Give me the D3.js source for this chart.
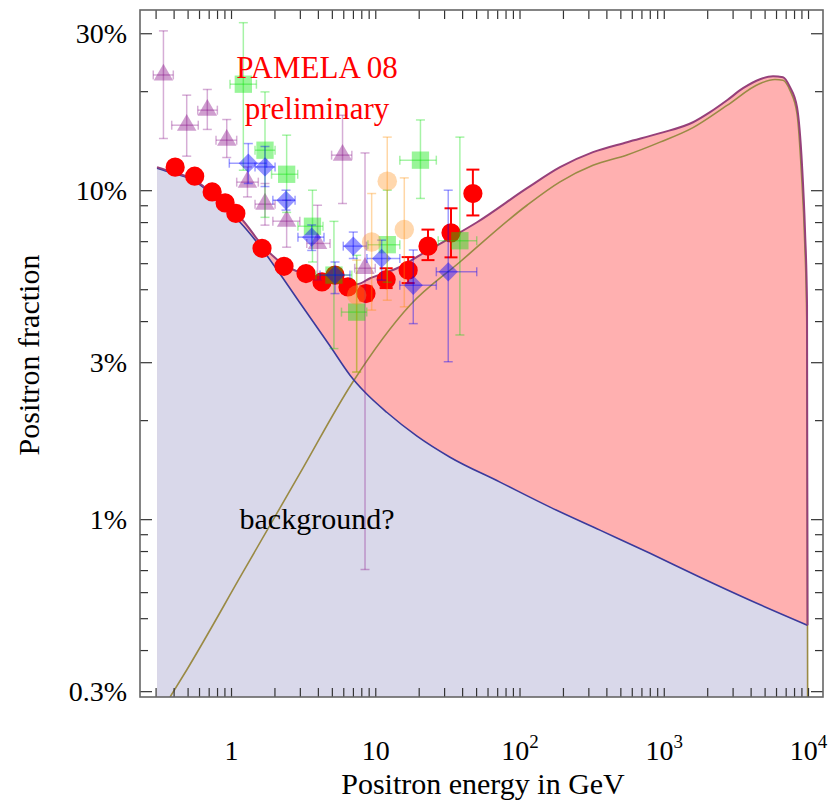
<!DOCTYPE html>
<html>
<head>
<meta charset="utf-8">
<script src="https://cdn.jsdelivr.net/npm/d3@7"></script>
<style>
  body { margin: 0; background: #fff; }
  svg text { font-family: "Liberation Serif", "Times New Roman", serif; }
</style>
</head>
<body>
<svg id="chart" width="835" height="807"></svg>
<script>
// ---- model curves: energy in GeV, positron fraction in % ----
const bgEnergy   = [0.307, 0.396, 0.545, 0.682, 0.880, 1.154, 1.666, 2.186, 3.009, 4.858, 6.68, 8.49, 12.06, 19.47, 32.98, 73.2, 162.7, 361, 803, 1784, 3962, 9920];
const bgFraction = [11.67, 11.26, 10.72, 10.0, 8.94, 7.99, 6.57, 5.56, 4.54, 3.36, 2.74, 2.43, 2.11, 1.788, 1.543, 1.296, 1.088, 0.926, 0.788, 0.666, 0.567, 0.476];

const totalEnergy   = [0.307, 0.396, 0.545, 0.682, 0.880, 1.154, 1.666, 2.294, 3.364, 4.858, 7.47, 9.20, 14.15, 21.43, 32.98, 50.75, 112.7, 190.9, 323, 556, 942, 1595, 2092, 2745, 3543, 4648, 5720, 6708, 7503, 8390, 9087, 9533, 9842, 9920];
const totalFraction = [11.75, 11.34, 10.80, 10.07, 9.07, 8.28, 6.76, 5.96, 5.52, 5.25, 5.18, 5.40, 5.79, 6.43, 7.15, 7.99, 10.14, 11.75, 13.05, 13.99, 14.91, 16.09, 17.27, 18.77, 20.42, 21.75, 22.21, 22.06, 20.57, 17.88, 11.9, 7.5, 4.5, 0.476];

const signalEnergy   = [0.378, 0.493, 1.21, 3.009, 6.90, 17.4, 38.6, 112.7, 190.9, 323, 556, 942, 1595, 2745, 4648, 5900, 6708, 7503, 8390, 9000, 9480, 9800, 9880, 9940];
const signalFraction = [0.288, 0.348, 0.690, 1.38, 2.59, 4.47, 6.05, 9.0, 10.6, 11.9, 12.8, 14.0, 15.5, 18.1, 21.1, 21.7, 21.6, 20.1, 17.1, 11.3, 7.0, 4.0, 1.1, 0.28];

// ---- PAMELA 08 preliminary ----
const pamelaEnergy   = [0.41, 0.56, 0.74, 0.91, 1.08, 1.64, 2.33, 3.31, 4.27, 5.26, 6.47, 8.62, 11.9, 16.9, 23.2, 33.5, 47.5];
const pamelaFraction = [11.75, 11.03, 9.88, 9.15, 8.50, 6.66, 5.87, 5.58, 5.26, 5.52, 5.08, 4.85, 5.35, 5.71, 6.76, 7.42, 9.77];
const pamelaLow      = [11.4, 10.7, 9.6, 8.9, 8.25, 6.45, 5.68, 5.38, 5.06, 5.30, 4.86, 4.62, 5.04, 5.22, 6.13, 6.25, 8.38];
const pamelaHigh     = [12.1, 11.4, 10.2, 9.4, 8.75, 6.88, 6.06, 5.78, 5.46, 5.74, 5.30, 5.10, 5.79, 6.26, 7.59, 8.81, 11.55];

// ---- earlier measurements ----
const triEnergy     = [0.34, 0.493, 0.685, 0.934, 1.30, 1.72, 2.43, 3.98, 5.93, 8.49];
const triEnergyLow  = [0.289, 0.388, 0.588, 0.787, 1.095, 1.467, 1.95, 3.35, 4.98, 7.2];
const triEnergyHigh = [0.398, 0.593, 0.804, 1.095, 1.546, 2.02, 3.0, 4.86, 6.88, 10.0];
const triFraction   = [22.4, 15.76, 17.51, 14.19, 10.58, 9.07, 8.05, 6.89, 12.78, 5.79];
const triLow        = [14.36, 12.69, 15.30, 12.57, 9.54, 7.83, 6.71, 5.33, 9.11, 0.703];
const triHigh       = [30.5, 19.45, 20.24, 16.40, 11.77, 10.48, 9.32, 9.0, 16.9, 12.98];

const sqEnergy     = [1.217, 1.72, 2.43, 3.67, 5.17, 7.43, 12.11, 20.57, 38.6];
const sqEnergyLow  = [0.984, 1.467, 1.91, 2.91, 3.88, 5.83, 8.9, 14.8, 27.3];
const sqEnergyHigh = [1.5, 2.02, 2.9, 4.34, 6.88, 8.73, 14.8, 26.5, 50.5];
const sqFraction   = [21.0, 13.23, 11.18, 7.77, 5.52, 4.26, 6.83, 12.34, 7.02];
const sqLow        = [11.5, 8.27, 8.56, 6.05, 3.30, 2.80, 5.25, 9.44, 3.63];
const sqHigh       = [32.3, 19.9, 14.7, 10.0, 8.04, 6.34, 10.0, 16.35, 14.5];

const dmEnergy     = [1.318, 1.72, 2.405, 3.625, 5.26, 7.04, 11.07, 18.34, 32.05];
const dmEnergyLow  = [0.973, 1.467, 1.95, 2.91, 4.14, 6.0, 8.75, 14.8, 26.5];
const dmEnergyHigh = [1.766, 2.02, 2.78, 4.41, 6.68, 8.7, 14.8, 26.5, 50.5];
const dmFraction   = [12.08, 11.77, 9.32, 7.20, 5.52, 6.76, 6.20, 5.14, 5.65];
const dmLow        = [10.48, 10.26, 8.70, 6.56, 4.85, 6.20, 5.33, 3.93, 3.01];
const dmHigh       = [13.86, 13.58, 10.0, 7.84, 6.05, 7.46, 7.05, 6.58, 10.0];

const ocEnergy   = [7.43, 9.44, 12.11, 15.89];
const ocFraction = [4.80, 6.96, 10.65, 7.59];
const ocLow      = [2.80, 4.32, 4.63, 4.42];
const ocHigh     = [6.13, 9.77, 14.5, 10.9];

// ---- axis labels ----
const xTickLabels = [1, 10, 100, 1000, 10000];
const yTickLabels = [0.3, 1, 3, 10, 30];
const yMajorTicks = [0.3, 1, 3, 10, 30];

// ---- layout ----
const pLeft = 140, pRight = 823, pTop = 10, pBottom = 697;
const svg = d3.select("#chart");

const x = d3.scaleLog().domain([0.2339, 12700]).range([pLeft, pRight]);
const y = d3.scaleLog().domain([0.288, 35.3]).range([pBottom, pTop]);

svg.append("defs").append("clipPath").attr("id", "plotClip")
  .append("rect").attr("x", pLeft).attr("y", pTop)
  .attr("width", pRight - pLeft).attr("height", pBottom - pTop);

const plot = svg.append("g").attr("clip-path", "url(#plotClip)");

const zipPts = (a, b) => a.map((v, i) => [v, b[i]]);
const bgPts = zipPts(bgEnergy, bgFraction);
const totalPts = zipPts(totalEnergy, totalFraction);
const signalPts = zipPts(signalEnergy, signalFraction);

const areaGen = d3.area().x(d => x(d[0])).y0(pBottom).y1(d => y(d[1])).curve(d3.curveMonotoneX);
const lineGen = d3.line().x(d => x(d[0])).y(d => y(d[1])).curve(d3.curveMonotoneX);

// signal excess (pink) then background (lavender) on top of it
plot.append("path").attr("d", areaGen(totalPts)).attr("fill", "#ffb0b0");
plot.append("path").attr("d", areaGen(bgPts)).attr("fill", "#d9d8ea");

plot.append("path").attr("d", lineGen(signalPts)).attr("fill", "none")
  .attr("stroke", "#9a8a44").attr("stroke-width", 1.6);
plot.append("path").attr("d", lineGen(bgPts)).attr("fill", "none")
  .attr("stroke", "#3a3a9c").attr("stroke-width", 1.6);
plot.append("path").attr("d", lineGen(totalPts)).attr("fill", "none")
  .attr("stroke", "#96407a").attr("stroke-width", 2);

// ---- error-bar helper ----
function errorBars(g, ex, eLo, eHi, fy, fLo, fHi, color, opacity, width, capV, capH) {
  ex.forEach((e, i) => {
    const cx = x(e), cy = y(fy[i]);
    const y1 = y(fLo[i]), y2 = y(fHi[i]);
    const seg = (a, b, c, d) => g.append("line").attr("x1", a).attr("y1", b).attr("x2", c).attr("y2", d)
      .attr("stroke", color).attr("stroke-opacity", opacity).attr("stroke-width", width);
    seg(cx, y1, cx, y2);
    seg(cx - capV, y1, cx + capV, y1);
    seg(cx - capV, y2, cx + capV, y2);
    if (eLo && eHi && eLo[i] !== eHi[i]) {
      const x1 = x(eLo[i]), x2 = x(eHi[i]);
      seg(x1, cy, x2, cy);
      seg(x1, cy - capH, x1, cy + capH);
      seg(x2, cy - capH, x2, cy + capH);
    }
  });
}

function markers(g, ex, fy, symbolType, size, color, opacity, rotate) {
  const sym = d3.symbol().type(symbolType).size(size);
  g.selectAll(null).data(ex.map((e, i) => [e, fy[i]])).enter().append("path")
    .attr("d", sym)
    .attr("transform", d => `translate(${x(d[0])},${y(d[1])})` + (rotate ? ` rotate(${rotate})` : ""))
    .attr("fill", color).attr("fill-opacity", opacity);
}

const dataG = plot.append("g");

// PAMELA (solid red), underneath the translucent earlier data
errorBars(dataG, pamelaEnergy, null, null, pamelaFraction, pamelaLow, pamelaHigh, "#ff0000", 1, 2, 6.5, 0);
markers(dataG, pamelaEnergy, pamelaFraction, d3.symbolCircle, 290, "#ff0000", 1);

// purple triangles
errorBars(dataG, triEnergy, triEnergyLow, triEnergyHigh, triFraction, triLow, triHigh, "rgb(128,0,128)", 0.32, 1.5, 4.5, 4.5);
markers(dataG, triEnergy, triFraction, d3.symbolTriangle, 165, "rgb(128,0,128)", 0.38);

// green squares
errorBars(dataG, sqEnergy, sqEnergyLow, sqEnergyHigh, sqFraction, sqLow, sqHigh, "rgb(0,220,0)", 0.35, 1.5, 4.5, 4.5);
markers(dataG, sqEnergy, sqFraction, d3.symbolSquare, 300, "rgb(0,230,0)", 0.4);

// blue diamonds
errorBars(dataG, dmEnergy, dmEnergyLow, dmEnergyHigh, dmFraction, dmLow, dmHigh, "rgb(0,0,255)", 0.38, 1.5, 4.5, 4.5);
markers(dataG, dmEnergy, dmFraction, d3.symbolSquare, 185, "rgb(0,0,255)", 0.42, 45);

// orange circles
errorBars(dataG, ocEnergy, null, null, ocFraction, ocLow, ocHigh, "rgb(255,140,0)", 0.35, 1.5, 4.5, 4.5);
markers(dataG, ocEnergy, ocFraction, d3.symbolCircle, 300, "rgb(255,150,40)", 0.38);

// ---- frame and ticks ----
const tickColor = "#333";
const xTicks = x.ticks();
const yTicks = y.ticks();

svg.append("g").attr("transform", `translate(0,${pBottom})`)
  .call(d3.axisBottom(x).tickValues(xTicks).tickSize(-9).tickFormat(""))
  .call(g => g.select(".domain").remove())
  .call(g => g.selectAll("line").attr("stroke", tickColor).attr("stroke-width", 1.2));
svg.append("g").attr("transform", `translate(0,${pTop})`)
  .call(d3.axisTop(x).tickValues(xTicks).tickSize(-9).tickFormat(""))
  .call(g => g.select(".domain").remove())
  .call(g => g.selectAll("line").attr("stroke", tickColor).attr("stroke-width", 1.2));

const isMajorY = v => yMajorTicks.some(m => Math.abs(m - v) / m < 1e-6);
svg.append("g").attr("transform", `translate(${pLeft},0)`)
  .call(d3.axisLeft(y).tickValues(yTicks).tickSize(0).tickFormat(""))
  .call(g => g.select(".domain").remove())
  .call(g => g.selectAll(".tick line").attr("x2", d => isMajorY(d) ? 12 : 8)
    .attr("stroke", tickColor).attr("stroke-width", 1.2));
svg.append("g").attr("transform", `translate(${pRight},0)`)
  .call(d3.axisRight(y).tickValues(yTicks).tickSize(0).tickFormat(""))
  .call(g => g.select(".domain").remove())
  .call(g => g.selectAll(".tick line").attr("x2", d => isMajorY(d) ? -12 : -8)
    .attr("stroke", tickColor).attr("stroke-width", 1.2));

svg.append("rect").attr("x", pLeft).attr("y", pTop)
  .attr("width", pRight - pLeft).attr("height", pBottom - pTop)
  .attr("fill", "none").attr("stroke", "#666").attr("stroke-width", 1.6);

// ---- tick labels ----
const labelSize = 28;
const xLab = svg.append("g").attr("transform", `translate(0,${pBottom})`)
  .call(d3.axisBottom(x).tickValues(xTickLabels).tickSize(0).tickFormat(""));
xLab.select(".domain").remove();
xLab.selectAll(".tick text").each(function (d) {
  const t = d3.select(this).attr("y", 63).attr("dy", null)
    .attr("font-size", labelSize).attr("fill", "#000");
  const p = Math.round(Math.log10(d));
  if (p <= 1) {
    t.text(String(d));
  } else {
    t.text("");
    t.append("tspan").text("10");
    t.append("tspan").attr("dy", -12).attr("font-size", 19).text(String(p));
  }
});

const yLab = svg.append("g").attr("transform", `translate(${pLeft},0)`)
  .call(d3.axisLeft(y).tickValues(yTickLabels).tickSize(0).tickPadding(13)
    .tickFormat(v => v + "%"));
yLab.select(".domain").remove();
yLab.selectAll(".tick text").attr("font-size", labelSize).attr("fill", "#000");

// ---- titles and annotations ----
svg.append("text").attr("x", 483).attr("y", 794).attr("text-anchor", "middle")
  .attr("font-size", 30).text("Positron energy in GeV");
svg.append("text").attr("transform", "translate(39,355) rotate(-90)").attr("text-anchor", "middle")
  .attr("font-size", 30).text("Positron fraction");

svg.append("text").attr("x", 317).attr("y", 78).attr("text-anchor", "middle")
  .attr("font-size", 31).attr("fill", "#ff0000").text("PAMELA 08");
svg.append("text").attr("x", 317).attr("y", 119).attr("text-anchor", "middle")
  .attr("font-size", 31).attr("fill", "#ff0000").text("preliminary");
svg.append("text").attr("x", 317).attr("y", 529).attr("text-anchor", "middle")
  .attr("font-size", 30).attr("fill", "#000").text("background?");
</script>
</body>
</html>
